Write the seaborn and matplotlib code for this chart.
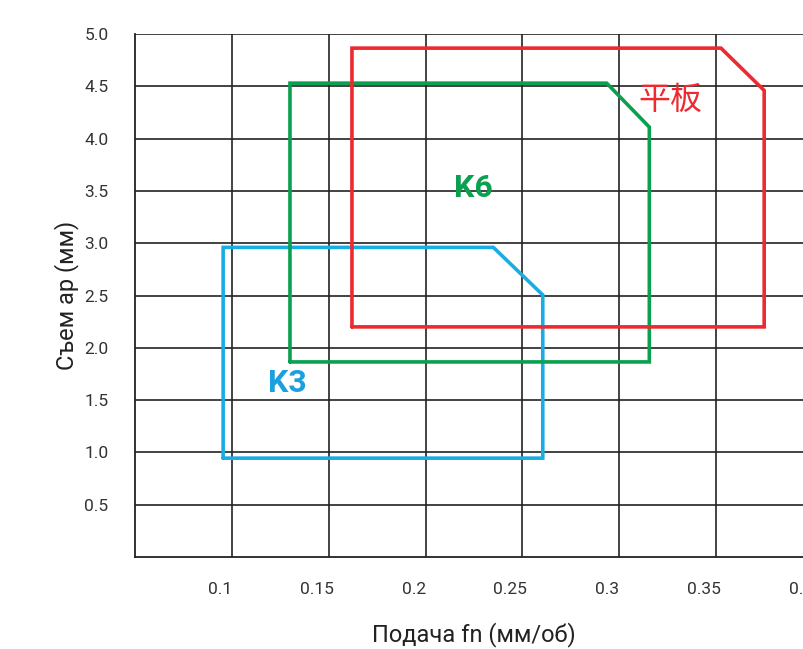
import matplotlib
matplotlib.use("Agg")
import matplotlib.pyplot as plt
import matplotlib.transforms as mtransforms
import seaborn as sns
import pandas as pd

# outline polygons (feed fn, depth ap), closed
k3_x = [0.0955, 0.0955, 0.235, 0.2605, 0.2605, 0.0955]
k3_y = [0.945, 2.96, 2.96, 2.505, 0.945, 0.945]

k6_x = [0.130, 0.130, 0.2935, 0.3155, 0.3155, 0.130]
k6_y = [1.865, 4.53, 4.53, 4.11, 1.865, 1.865]

flat_x = [0.162, 0.162, 0.3525, 0.3748, 0.3748, 0.162]
flat_y = [2.20, 4.865, 4.865, 4.46, 2.20, 2.20]

labels = ["K3", "K6", "平板"]
label_x = [0.1285, 0.2245, 0.3262]
label_y = [1.66, 3.53, 4.37]
colors = ["#1AADE4", "#0AA04F", "#EC2A30"]

x_ticks = [0.1, 0.15, 0.2, 0.25, 0.3, 0.35, 0.4]
x_ticklabels = ["0.1", "0.15", "0.2", "0.25", "0.3", "0.35", "0.4"]
y_ticks = [0.5, 1.0, 1.5, 2.0, 2.5, 3.0, 3.5, 4.0, 4.5, 5.0]

sns.set_style("white")
plt.rcParams['font.family'] = ['Roboto', 'Noto Sans CJK SC', 'DejaVu Sans']

fig = plt.figure(figsize=(8.04, 6.49), dpi=100)
ax = fig.add_axes([135/804, 92/649, 678/804, 523/649])

shapes = [(k3_x, k3_y), (k6_x, k6_y), (flat_x, flat_y)]
for (xs, ys), c in zip(shapes, colors):
    df = pd.DataFrame({"fn": xs, "ap": ys})
    sns.lineplot(data=df, x="fn", y="ap", sort=False, estimator=None,
                 color=c, linewidth=2.6, ax=ax, zorder=3,
                 solid_joinstyle="miter")

for lab, lx, ly, c in zip(labels, label_x, label_y, colors):
    if lab == "平板":
        ax.text(lx, ly, lab, color=c, fontsize=23, ha="center", va="center",
                family=['Noto Sans CJK SC', 'DejaVu Sans'], zorder=4)
    else:
        ax.text(lx, ly, lab, color="#1A9FDF" if lab == "K3" else c,
                fontsize=23, fontweight="bold", ha="center", va="center", zorder=4)

ax.set_xlim(0.05, 0.4)
ax.set_ylim(0, 5.0)
ax.set_xticks(x_ticks)
ax.set_xticklabels(x_ticklabels)
ax.set_yticks(y_ticks)
ax.set_yticklabels([f"{v:.1f}" for v in y_ticks])
ax.grid(True, color="#222222", linewidth=1.2)
ax.set_axisbelow(True)
ax.tick_params(axis="both", length=0, labelsize=12.5, colors="#333333")
ax.tick_params(axis="x", pad=18)
ax.tick_params(axis="y", pad=19)

# tick labels sit slightly left of their grid lines
offset = mtransforms.ScaledTranslation(-12/100, 0, fig.dpi_scale_trans)
for lbl in ax.get_xticklabels():
    lbl.set_transform(lbl.get_transform() + offset)

for side in ["top", "right"]:
    ax.spines[side].set_visible(False)
for side in ["left", "bottom"]:
    ax.spines[side].set_color("#222222")
    ax.spines[side].set_linewidth(1.3)

ax.set_xlabel("Подача fn (мм/об)", fontsize=17, color="#222222", labelpad=18)
ax.set_ylabel("Съем ap (мм)", fontsize=17, color="#222222", labelpad=4)

fig.savefig("out.png", dpi=100)
